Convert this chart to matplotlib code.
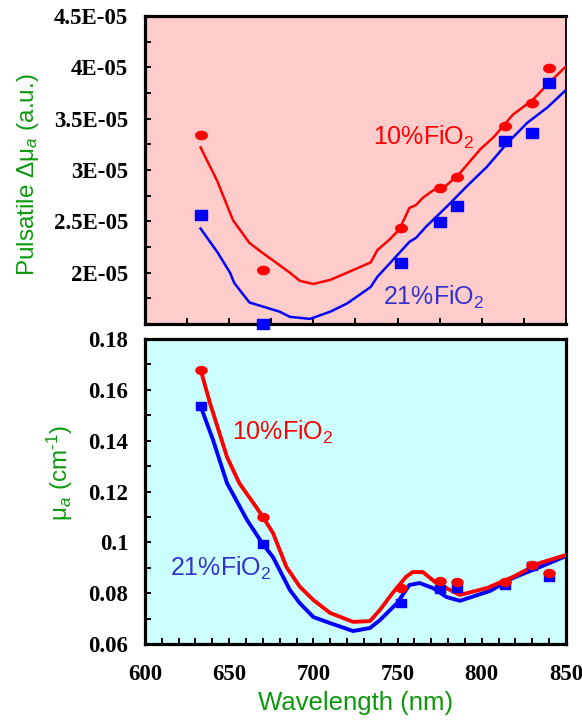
import numpy as np
import matplotlib
matplotlib.use("Agg")
from matplotlib import pyplot as plt
from matplotlib.path import Path

# measured wavelengths (nm)
pointWl = [633, 670, 752, 775, 785, 814, 830, 840]

# pulsatile delta mu_a (a.u.), markers
topRedPts = [3.34e-05, 2.03e-05, 2.44e-05, 2.82e-05, 2.93e-05, 3.43e-05, 3.65e-05, 3.99e-05]
topBluePts = [2.56e-05, 1.50e-05, 2.09e-05, 2.49e-05, 2.65e-05, 3.28e-05, 3.36e-05, 3.85e-05]

# pulsatile fitted curves
topRedWl = [633, 642.7, 652.3, 662, 670, 676, 686, 692, 700, 710, 720, 734, 738, 745, 751, 757, 761,
            765, 771, 779, 787, 799, 807, 818.5, 830, 840, 850]
topRedVal = [3.22, 2.90, 2.51, 2.29, 2.19, 2.12, 2.00, 1.92, 1.89, 1.93, 2.00, 2.10, 2.22, 2.32, 2.42, 2.63,
             2.66, 2.73, 2.80, 2.85, 2.97, 3.20, 3.32, 3.54, 3.68, 3.85, 4.01]
topBlueWl = [633, 643, 650.5, 653, 662, 670, 680, 686, 692, 698, 710, 720, 734, 738, 747, 757, 761, 767,
             779, 791, 803, 815, 827, 839, 850]
topBlueVal = [2.43, 2.20, 2.00, 1.90, 1.71, 1.67, 1.62, 1.57, 1.56, 1.55, 1.62, 1.70, 1.86, 1.96, 2.12, 2.30,
              2.34, 2.45, 2.64, 2.84, 3.03, 3.26, 3.46, 3.61, 3.78]

# absolute mu_a (cm-1), markers
botRedPts = [0.1678, 0.110, 0.082, 0.0848, 0.0844, 0.0844, 0.0911, 0.088]
botBluePts = [0.1536, 0.0993, 0.0761, 0.0816, 0.082, 0.0832, 0.0907, 0.0864]

# absolute mu_a spectra
botRedWl = [633, 638.6, 648.7, 656, 666, 670, 676, 684, 692, 700, 710, 723.6, 733.6, 739.5, 747, 755, 759,
            765, 773, 787, 803, 818.5, 834.6, 850]
botRedVal = [0.168, 0.1548, 0.1336, 0.1233, 0.1139, 0.110, 0.1037, 0.0903, 0.0825, 0.0773, 0.0722, 0.0687,
             0.069, 0.0734, 0.080, 0.0864, 0.0883, 0.0883, 0.084, 0.0793, 0.082, 0.0864, 0.0919, 0.095]
botBlueWl = [633, 640.4, 648.7, 660.6, 670, 676, 686, 692, 700, 710, 723.6, 733.6, 739.5, 749.6, 757, 763,
             771, 779, 787, 805, 818.5, 834.6, 850]
botBlueVal = [0.1536, 0.1403, 0.1233, 0.1088, 0.0993, 0.0942, 0.0813, 0.076, 0.0706, 0.0682, 0.0651, 0.0663,
              0.0694, 0.076, 0.0832, 0.084, 0.082, 0.0785, 0.077, 0.0809, 0.086, 0.0903, 0.0946]

topYTicks = [2.0e-05, 2.5e-05, 3.0e-05, 3.5e-05, 4.0e-05, 4.5e-05]
topYLabels = ["2E-05", "2.5E-05", "3E-05", "3.5E-05", "4E-05", "4.5E-05"]
botYTicks = [0.06, 0.08, 0.1, 0.12, 0.14, 0.16, 0.18]
botYLabels = ["0.06", "0.08", "0.1", "0.12", "0.14", "0.16", "0.18"]
botXTicks = [600, 650, 700, 750, 800, 850]

plt.rcParams['mathtext.fontset'] = 'custom'
plt.rcParams['mathtext.rm'] = 'Liberation Sans'
plt.rcParams['mathtext.it'] = 'Liberation Sans:italic'
plt.rcParams['font.family'] = ['Liberation Sans', 'DejaVu Sans']

GREEN = '#0c980c'
RED = '#ff0000'
BLUE = '#0000ff'

# slightly squashed markers, like the original
t = np.linspace(0, 2 * np.pi, 40)
ellipse = Path(np.column_stack([np.cos(t), 0.72 * np.sin(t)]), closed=True)
rect = Path([(-1, -0.82), (1, -0.82), (1, 0.82), (-1, 0.82), (-1, -0.82)], closed=True)

tickFont = dict(family='Liberation Serif', weight='bold', size=16.5)


def styleAxes(ax, faceColor):
    ax.set_facecolor(faceColor)
    for side in ax.spines:
        ax.spines[side].set_linewidth(2.3)
        ax.spines[side].set_color('black')
    ax.tick_params(which='both', direction='in', length=4, width=1.4, top=False, right=False)
    ax.tick_params(axis='y', pad=12)
    ax.tick_params(axis='x', pad=14.5)


fig = plt.figure(figsize=(5.82, 7.21), dpi=100)
axTop = fig.add_axes([0.2491, 0.5506, 0.7234, 0.4272])
axBot = fig.add_axes([0.2491, 0.1068, 0.7234, 0.4230])

# ---- top panel: pulsatile ----
styleAxes(axTop, '#ffcccc')
axTop.spines['right'].set_linewidth(1.3)
axTop.plot(topRedWl, np.array(topRedVal) * 1e-5, color=RED, lw=1.8, zorder=3)
axTop.plot(topBlueWl, np.array(topBlueVal) * 1e-5, color=BLUE, lw=1.8, zorder=3)
axTop.plot(pointWl, topBluePts, ls='none', marker=rect, ms=8, color=BLUE, zorder=4, clip_on=False)
axTop.plot(pointWl, topRedPts, ls='none', marker=ellipse, ms=8.3, color=RED, zorder=5, clip_on=False)
axTop.set_xlim(600, 850)
axTop.set_ylim(1.5e-05, 4.5e-05)
axTop.set_xticks(np.arange(600, 851, 25))
axTop.set_xticklabels([])
axTop.set_yticks(topYTicks)
axTop.set_yticks(np.arange(1.75e-05, 4.5e-05, 5e-06), minor=True)
axTop.set_yticklabels(topYLabels, fontdict=tickFont)
axTop.set_ylabel(r'Pulsatile Δμ$_{\mathit{a}}$ (a.u.)', color=GREEN, fontsize=17.5)
axTop.yaxis.set_label_coords(-0.247, 0.484)
axTop.text(735.4, 3.32e-05, r'10%FiO$_2$', color=RED, fontsize=18, va='center', ha='left')
axTop.text(741.3, 1.76e-05, r'21%FiO$_2$', color='#3333cc', fontsize=18, va='center', ha='left')

# ---- bottom panel: absolute ----
styleAxes(axBot, '#ccffff')
axBot.plot(botBlueWl, botBlueVal, color=BLUE, lw=2.8, zorder=3)
axBot.plot(botRedWl, botRedVal, color=RED, lw=2.8, zorder=3)
axBot.plot(pointWl, botBluePts, ls='none', marker=rect, ms=7.5, color=BLUE, zorder=4, clip_on=False)
axBot.plot(pointWl, botRedPts, ls='none', marker=ellipse, ms=8, color=RED, zorder=5, clip_on=False)
axBot.set_xlim(600, 850)
axBot.set_ylim(0.06, 0.18)
axBot.set_xticks(botXTicks)
axBot.set_xticks(np.arange(610, 850, 10), minor=True)
axBot.set_xticklabels([str(v) for v in botXTicks], fontdict=tickFont)
axBot.set_yticks(botYTicks)
axBot.set_yticks(np.arange(0.07, 0.18, 0.02), minor=True)
axBot.set_yticklabels(botYLabels, fontdict=tickFont)
axBot.set_xlabel('Wavelength (nm)', color=GREEN, fontsize=18.5, labelpad=4)
axBot.set_ylabel(r'μ$_{\mathit{a}}$ (cm$^{\text{-1}}$)', color=GREEN, fontsize=17.5)
axBot.yaxis.set_label_coords(-0.166, 0.562)
axBot.text(651.7, 0.1434, r'10%FiO$_2$', color=RED, fontsize=18, va='center', ha='left')
axBot.text(614.8, 0.0899, r'21%FiO$_2$', color='#3333cc', fontsize=18, va='center', ha='left')

fig.savefig('out.png', dpi=100)
plt.close()
